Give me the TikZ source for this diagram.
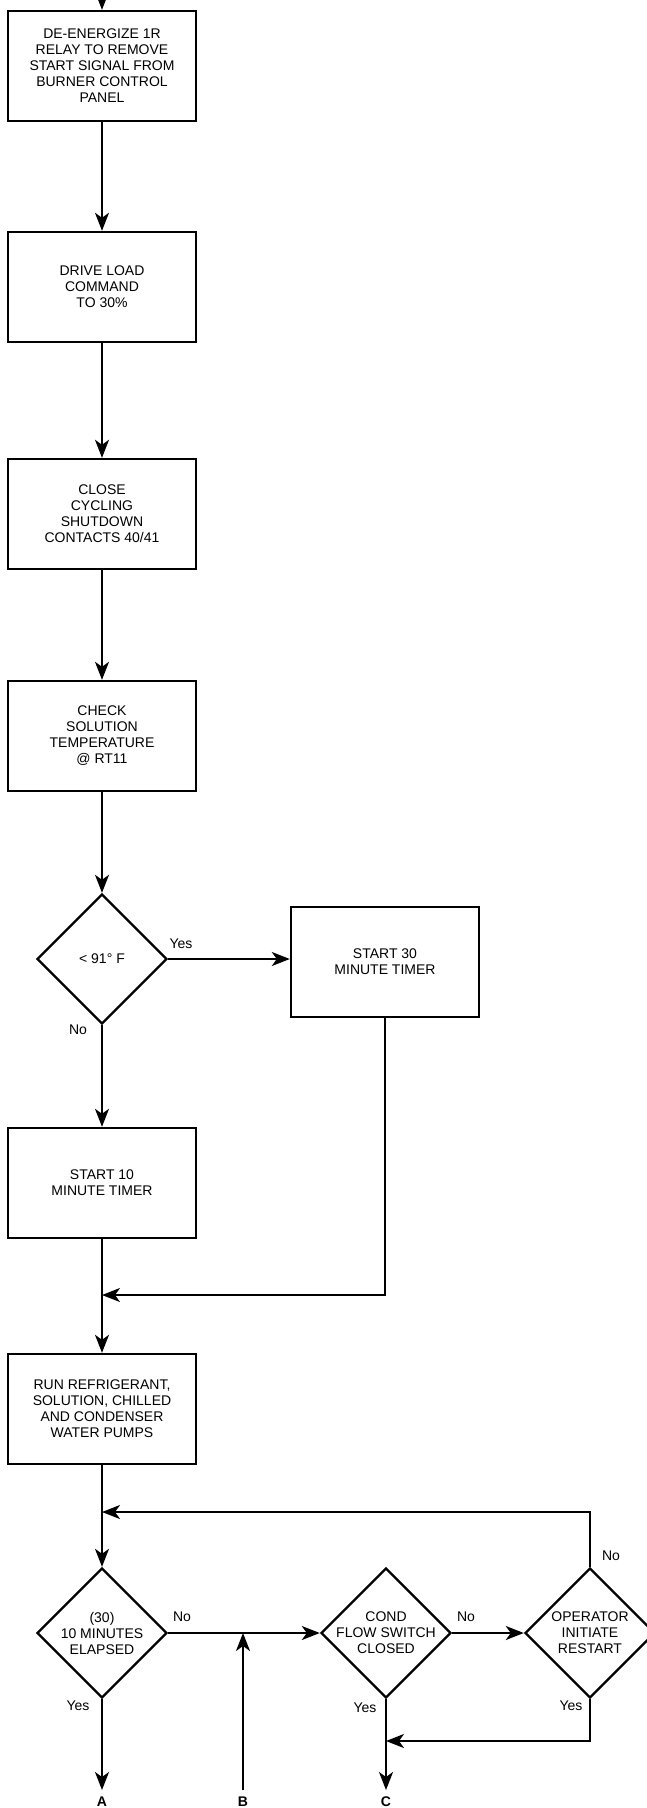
\documentclass[tikz,border=0pt]{standalone}
\usepackage{fontspec}
\setmainfont{Liberation Sans}
\usetikzlibrary{arrows.meta,shapes.geometric}
\begin{document}
\begin{tikzpicture}[x=1pt,y=-1pt,
  txt/.style={font=\fontsize{14}{16}\selectfont, align=center, inner sep=0pt},
  stepbox/.style={txt, draw, line width=2.4pt, minimum width=188pt, minimum height=110pt},
  decide/.style={diamond, draw, line width=2.4pt, minimum width=130pt, minimum height=130pt, inner sep=0pt},
  lbl/.style={font=\fontsize{14}{16}\selectfont, inner sep=0pt},
  endlbl/.style={font=\fontsize{14}{16}\selectfont\bfseries, inner sep=0pt},
  arr/.style={line width=2pt, -{Stealth[length=18pt,width=14pt,inset=5pt]}},
  thin arr/.style={line width=1.6pt, -{Stealth[length=18pt,width=14pt,inset=5pt]}}
]
\fill[white] (0,0) rectangle (647,1808);
\useasboundingbox (0,0) rectangle (647,1808);

% process boxes
\node[stepbox] (b1) at (102,66) {DE-ENERGIZE 1R\\RELAY TO REMOVE\\START SIGNAL FROM\\BURNER CONTROL\\PANEL};
\node[stepbox] (b2) at (102,287) {DRIVE LOAD\\COMMAND\\TO 30\%};
\node[stepbox] (b3) at (102,514) {CLOSE\\CYCLING\\SHUTDOWN\\CONTACTS 40/41};
\node[stepbox] (b4) at (102,736) {CHECK\\SOLUTION\\TEMPERATURE\\@ RT11};
\node[decide, label={[txt]center:{< 91° F}}] (d1) at (102,959) {};
\node[stepbox] (b5) at (385,962) {START 30\\MINUTE TIMER};
\node[stepbox] (b6) at (102,1183) {START 10\\MINUTE TIMER};
\node[stepbox] (b7) at (102,1409) {RUN REFRIGERANT,\\SOLUTION, CHILLED\\AND CONDENSER\\WATER PUMPS};
\node[decide, label={[txt]center:{(30)\\10 MINUTES\\ELAPSED}}] (dA) at (102,1633) {};
\node[decide, label={[txt]center:{COND\\FLOW SWITCH\\CLOSED}}] (dC) at (386,1633) {};
\node[decide, label={[txt]center:{OPERATOR\\INITIATE\\RESTART}}] (dO) at (590,1633) {};

% helper coordinates
\coordinate (top) at (102,-10);
\coordinate (mg) at (102,1295);
\coordinate (lp) at (102,1512);
\coordinate (jB) at (243,1633);
\coordinate (Bs) at (243,1790);
\coordinate (Ae) at (102,1790);
\coordinate (Ce) at (386,1790);
\coordinate (yj) at (386,1741);

% end labels
\node[endlbl] (lA) at (102,1802) {A};
\node[endlbl] (lB) at (243,1802) {B};
\node[endlbl] (lC) at (386,1802) {C};

% connectors
\draw[arr] (top) -- (b1.north);
\draw[arr] (b1.south) -- (b2.north);
\draw[arr] (b2.south) -- (b3.north);
\draw[arr] (b3.south) -- (b4.north);
\draw[arr] (b4.south) -- (d1.north);
\draw[arr] (d1.east) -- (d1.east -| b5.west);
\draw[arr] (d1.south) -- (b6.north);
\draw[thin arr] (b5.south) |- (mg);
\draw[arr] (b6.south) -- (b7.north);
\draw[arr] (b7.south) -- (dA.north);
\draw[arr] (dO.north) |- (lp);
\draw[arr] (dA.east) -- (dC.west);
\draw[arr] (Bs) -- (jB);
\draw[arr] (dC.east) -- (dO.west);
\draw[arr] (dA.south) -- (Ae);
\draw[arr] (dC.south) -- (Ce);
\draw[arr] (dO.south) |- (yj);

% branch labels
\node[lbl] (y1) at (181,944) {Yes};
\node[lbl] (n1) at (78,1030) {No};
\node[lbl] (n2) at (182,1617) {No};
\node[lbl] (n3) at (466,1617) {No};
\node[lbl] (n4) at (611,1556) {No};
\node[lbl] (y2) at (78,1706) {Yes};
\node[lbl] (y3) at (365,1708) {Yes};
\node[lbl] (y4) at (571,1706) {Yes};
\end{tikzpicture}
\end{document}
